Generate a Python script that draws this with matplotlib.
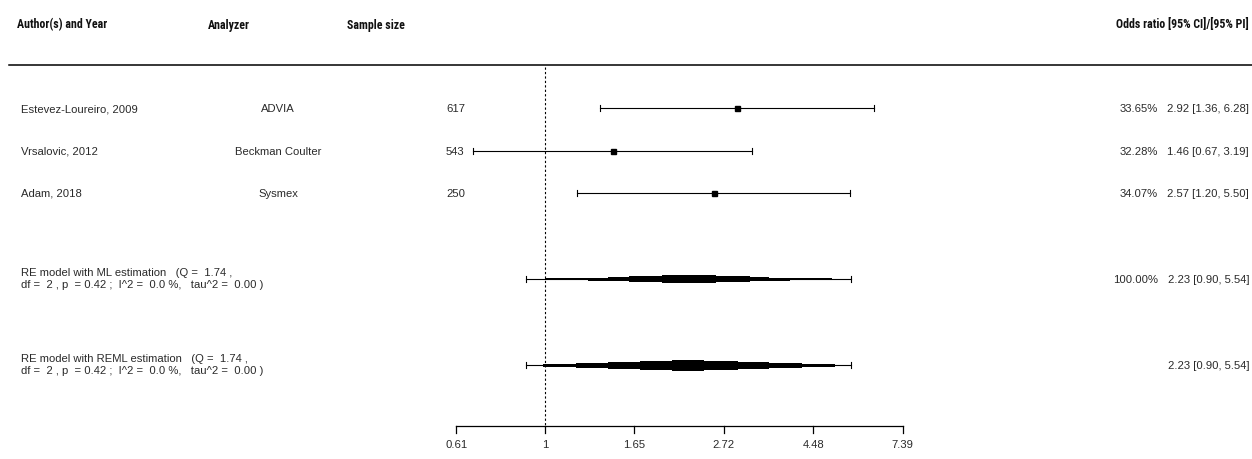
import numpy as np
import matplotlib
matplotlib.use("Agg")
import matplotlib.pyplot as plt
from matplotlib import font_manager
from matplotlib.transforms import blended_transform_factory

# ---------------- data ----------------
authors = ["Estevez-Loureiro, 2009", "Vrsalovic, 2012", "Adam, 2018"]
analyzers = ["ADVIA", "Beckman Coulter", "Sysmex"]
sample_sizes = ["617", "543", "250"]
or_est = [2.92, 1.46, 2.57]
ci_low = [1.36, 0.67, 1.20]
ci_high = [6.28, 3.19, 5.50]
weights = ["33.65%", "32.28%", "34.07%"]

summary_labels = [
    "RE model with ML estimation   (Q =  1.74 ,\ndf =  2 , p  = 0.42 ;  I^2 =  0.0 %,   tau^2 =  0.00 )",
    "RE model with REML estimation   (Q =  1.74 ,\ndf =  2 , p  = 0.42 ;  I^2 =  0.0 %,   tau^2 =  0.00 )",
]
summary_est = [2.23, 2.23]
summary_low = [0.90, 0.90]
summary_high = [5.54, 5.54]
summary_weight = ["100.00%", ""]
# stepped confidence-distribution bands (OR bounds, outer -> inner)
ml_band_low = [1.00, 1.27, 1.42, 1.60, 1.93]
ml_band_high = [4.99, 3.93, 3.51, 3.14, 2.61]
reml_band_low = [0.99, 1.19, 1.42, 1.70, 2.04]
reml_band_high = [5.05, 4.22, 3.51, 2.94, 2.44]

tick_values = [0.61, 1.0, 1.65, 2.72, 4.48, 7.39]
tick_labels = ["0.61", "1", "1.65", "2.72", "4.48", "7.39"]

headers = ["Author(s) and Year", "Analyzer", "Sample size", "Odds ratio [95% CI]/[95% PI]"]

# ---------------- fonts ----------------
available = {f.name for f in font_manager.fontManager.ttflist}
narrow_candidates = ["Liberation Sans Narrow", "Arial Narrow", "DejaVu Sans Condensed",
                     "Roboto Condensed", "Open Sans Condensed", "Noto Sans Condensed"]
narrow = next((n for n in narrow_candidates if n in available), None)
if narrow is not None:
    font_head = [narrow, "DejaVu Sans"]
    head_fs = 8.6
else:
    font_head = ["Liberation Sans", "DejaVu Sans"]
    head_fs = 7.4
font_reg = ["Liberation Sans", "DejaVu Sans"]

# ---------------- layout ----------------
W, H = 1252, 460
fig = plt.figure(figsize=(W / 100, H / 100), dpi=100)
ax = fig.add_axes([0, 0, 1, 1])
ax.set_xscale("log")
px_per_ln = (903 - 456) / 2.5
x_left = np.exp(np.log(0.61) - 456 / px_per_ln)
x_right = np.exp(np.log(7.39) + (W - 903) / px_per_ln)
ax.set_xlim(x_left, x_right)
ax.set_ylim(H, 0)
ax.axis("off")

tr = blended_transform_factory(fig.transFigure, ax.transData)
fx = lambda px: px / W

txt_color = "#2a2a2a"
fs = 8.1

# headers
head_y = 25
head_x = [17, 208, 347, 1249]
head_ha = ["left", "left", "left", "right"]
for hx, ha, lab in zip(head_x, head_ha, headers):
    ax.text(fx(hx), head_y, lab, transform=tr, ha=ha, va="center",
            fontsize=head_fs, fontweight="bold", family=font_head, color="#111111")

# header rule
ax.plot([fx(9), 1.0], [66, 66], transform=tr, color="black", lw=1.1)

# reference line at OR = 1
ax.plot([1, 1], [68, 427], color="black", lw=0.8, ls=(0, (2, 2)))

# study rows
study_y = [109, 152, 194]
cap = 3
for i, y in enumerate(study_y):
    ax.text(fx(21), y, authors[i], transform=tr, ha="left", va="center",
            fontsize=fs, family=font_reg, color=txt_color)
    ax.text(fx(278), y, analyzers[i], transform=tr, ha="center", va="center",
            fontsize=fs, family=font_reg, color=txt_color)
    ax.text(fx(446), y, sample_sizes[i], transform=tr, ha="left", va="center",
            fontsize=fs, family=font_reg, color=txt_color)
    ax.text(fx(1158), y, weights[i], transform=tr, ha="right", va="center",
            fontsize=fs, family=font_reg, color=txt_color)
    ax.text(fx(1249), y, f"{or_est[i]:.2f} [{ci_low[i]:.2f}, {ci_high[i]:.2f}]",
            transform=tr, ha="right", va="center",
            fontsize=fs, family=font_reg, color=txt_color)
    ax.plot([ci_low[i], ci_high[i]], [y, y], color="black", lw=0.8)
    ax.plot([ci_low[i], ci_low[i]], [y - cap, y + cap], color="black", lw=0.8)
    ax.plot([ci_high[i], ci_high[i]], [y - cap, y + cap], color="black", lw=0.8)
    ax.plot([or_est[i]], [y], marker="s", ms=3.6, color="black", mec="black", ls="none")

# summary rows
sum_y = [280, 366]
band_lows = [ml_band_low, reml_band_low]
band_highs = [ml_band_high, reml_band_high]
band_heights = [[2, 3, 4, 5.5, 8], [3, 5, 7, 9, 11]]
for j, y in enumerate(sum_y):
    ax.text(fx(21), y - 1, summary_labels[j], transform=tr, ha="left", va="center",
            fontsize=fs, family=font_reg, color=txt_color, linespacing=1.3)
    if summary_weight[j]:
        ax.text(fx(1158), y, summary_weight[j], transform=tr, ha="right", va="center",
                fontsize=fs, family=font_reg, color=txt_color)
    ax.text(fx(1249), y,
            f"{summary_est[j]:.2f} [{summary_low[j]:.2f}, {summary_high[j]:.2f}]",
            transform=tr, ha="right", va="center",
            fontsize=fs, family=font_reg, color=txt_color)
    ax.plot([summary_low[j], summary_high[j]], [y, y], color="black", lw=0.8)
    ax.plot([summary_low[j]] * 2, [y - cap, y + cap], color="black", lw=0.8)
    ax.plot([summary_high[j]] * 2, [y - cap, y + cap], color="black", lw=0.8)
    for lo, hi, h in zip(band_lows[j], band_highs[j], band_heights[j]):
        ax.barh(y, hi - lo, left=lo, height=h, color="black", edgecolor="none")

# x axis
axis_y = 427
ax.plot([tick_values[0], tick_values[-1]], [axis_y, axis_y], color="black", lw=0.9)
for v, lab in zip(tick_values, tick_labels):
    ax.plot([v, v], [axis_y, axis_y + 7], color="black", lw=0.9)
    ax.text(v, 445, lab, ha="center", va="center", fontsize=fs,
            family=font_reg, color=txt_color)

fig.savefig("out.png", dpi=100, facecolor="white")
